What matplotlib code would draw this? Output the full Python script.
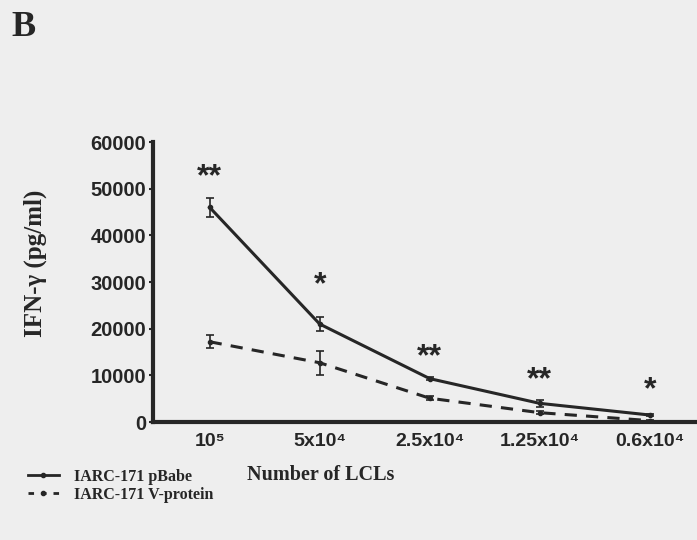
import matplotlib
matplotlib.use("Agg")
import matplotlib.pyplot as plt
import numpy as np

# data
cells = ["10\u2075", "5x10\u2074", "2.5x10\u2074", "1.25x10\u2074", "0.6x10\u2074"]
pbabe = [46000, 21000, 9300, 4000, 1500]
pbabe_err = [2100, 1400, 400, 700, 300]
vprot = [17200, 12700, 5100, 2000, 300]
vprot_err = [1400, 2600, 400, 300, 200]
stars = ["**", "*", "**", "**", "*"]
star_y = [52400, 29400, 13800, 8900, 6700]
yticks = [0, 10000, 20000, 30000, 40000, 50000, 60000]

BG = "#eeeeee"
INK = "#262626"
SANS = ["Liberation Sans", "DejaVu Sans"]
SERIF = ["Liberation Serif", "DejaVu Serif"]

fig = plt.figure(figsize=(6.97, 5.4), dpi=100, facecolor=BG)
ax = fig.add_axes([0.2195, 0.2185, 0.7805, 0.5185], facecolor=BG)

x = np.arange(len(cells))
ax.errorbar(x, pbabe, yerr=pbabe_err, color=INK, lw=2.2, marker="o", ms=3,
            capsize=3, elinewidth=1.2, capthick=1.2)
ax.errorbar(x, vprot, yerr=vprot_err, color=INK, lw=2.2, ls=(0, (4, 3)), marker="o", ms=3,
            capsize=3, elinewidth=1.2, capthick=1.2)

for xi, s, yi in zip(x, stars, star_y):
    ax.text(xi, yi, s, ha="center", va="center", fontsize=23, fontweight="bold",
            color=INK, family=SANS)

ax.set_xlim(-0.515, 4.43)
ax.set_ylim(0, 60000)
ax.set_yticks(yticks)
ax.set_yticklabels([str(v) for v in yticks], fontsize=14.5, fontweight="bold",
                   family=SANS, color=INK)
ax.set_xticks(x)
ax.set_xticklabels(cells, fontsize=14, fontweight="bold", family=SANS, color=INK)
ax.tick_params(axis="y", length=3, width=1.5, color=INK, pad=2)
ax.tick_params(axis="x", length=0, pad=8)

for side in ["top", "right"]:
    ax.spines[side].set_visible(False)
for side in ["left", "bottom"]:
    ax.spines[side].set_linewidth(3)
    ax.spines[side].set_color(INK)

ax.set_ylabel("IFN-\u03b3 (pg/ml)", fontsize=18, fontweight="bold", family=SERIF,
              color=INK)
ax.yaxis.set_label_coords(-0.195, 0.568)

fig.text(0.017, 0.95, "B", fontsize=26, fontweight="bold", family=SERIF, color=INK,
         va="center")
fig.text(0.354, 0.12, "Number of LCLs", fontsize=14.5, fontweight="bold", family=SERIF,
         color=INK, va="center")

handles = [plt.Line2D([], [], color=INK, lw=2, marker="o", ms=3),
           plt.Line2D([], [], color=INK, lw=2, ls=(0, (2, 2.5)), marker="o", ms=3)]
leg = fig.legend(handles, ["IARC-171 pBabe", "IARC-171 V-protein"], loc="upper left",
                 bbox_to_anchor=(0.028, 0.147), frameon=False, handlelength=2.0,
                 handletextpad=0.9, labelspacing=0.15, borderpad=0,
                 prop={"family": SERIF, "size": 11.5, "weight": "bold"})
for t in leg.get_texts():
    t.set_color(INK)

fig.savefig("out.png", dpi=100, facecolor=BG)
